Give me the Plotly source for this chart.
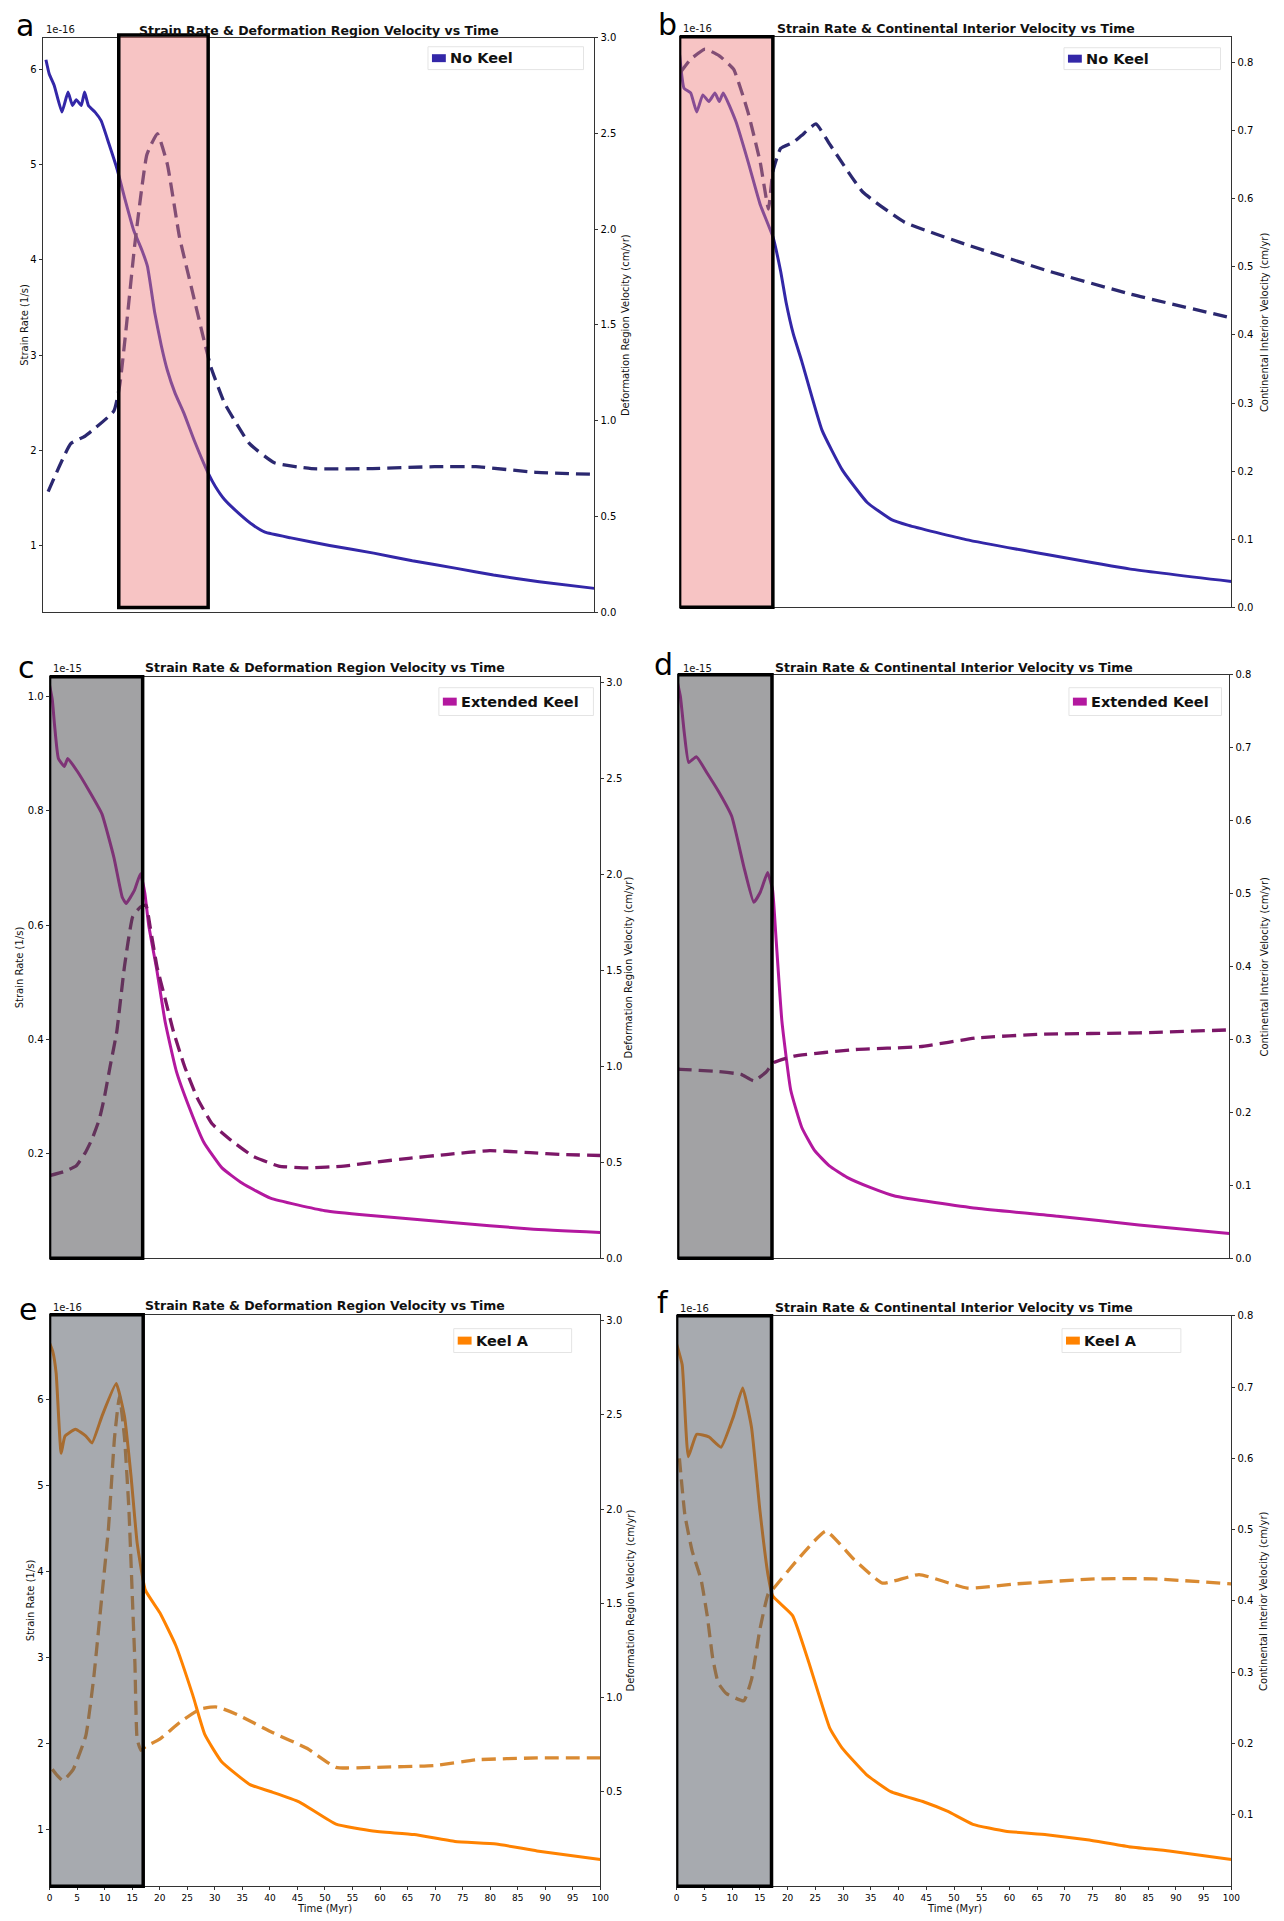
import plotly.graph_objects as go

# ---------------------------------------------------------------- data
time_ticks = list(range(0, 101, 5))

# (a) No Keel - deformation region
a_solid_t = [0.6, 1.2, 2.1, 3.5, 4.6, 5.4, 6.1, 7.0, 7.6, 8.3, 9.5, 10.6, 12.0, 13.5, 15.0, 16.5, 18.0, 19.0,
             20.3, 21.5, 22.6, 24.0, 25.6, 27.5, 30.0, 31.3, 33.0, 35.7, 38.0, 40.3, 45.0, 52.0, 60.0, 67.0,
             75.0, 81.7, 90.0, 100.0]
a_solid_v = [6.10, 5.95, 5.83, 5.55, 5.76, 5.62, 5.68, 5.62, 5.76, 5.62, 5.55, 5.46, 5.22, 4.95, 4.62, 4.31,
             4.10, 3.93, 3.45, 3.10, 2.84, 2.60, 2.39, 2.10, 1.76, 1.62, 1.48, 1.33, 1.22, 1.14, 1.08, 1.00,
             0.92, 0.84, 0.76, 0.69, 0.62, 0.55]
a_dash_t = [1.0, 5.1, 7.7, 12.9, 14.0, 15.2, 16.7, 18.9, 20.8, 22.6, 24.8, 27.1, 29.0, 30.5, 33.0, 37.5, 42.0,
            48.7, 59.8, 71.0, 78.5, 89.6, 100.0]
a_dash_w = [0.63, 0.88, 0.92, 1.05, 1.19, 1.50, 1.92, 2.39, 2.50, 2.34, 1.96, 1.68, 1.45, 1.28, 1.09, 0.88,
            0.78, 0.75, 0.75, 0.76, 0.76, 0.73, 0.72]

# (b) No Keel - continental interior
b_solid_t = [0.0, 0.8, 2.0, 3.1, 4.2, 5.3, 6.4, 7.2, 7.9, 10.2, 12.4, 14.6, 16.9, 18.3, 19.3, 20.6, 22.1, 25.8,
             29.5, 34.0, 38.4, 41.5, 51.9, 66.8, 81.7, 100.0]
b_solid_v = [6.15, 5.80, 5.75, 5.55, 5.73, 5.66, 5.75, 5.66, 5.75, 5.45, 5.03, 4.58, 4.24, 3.88, 3.55, 3.22,
             2.94, 2.21, 1.79, 1.45, 1.27, 1.21, 1.06, 0.90, 0.75, 0.62]
b_dash_t = [0.1, 2.0, 4.6, 7.2, 9.8, 12.4, 14.6, 16.1, 16.9, 18.3, 20.6, 22.1, 24.7, 27.3, 33.2, 40.7, 51.9,
            66.8, 81.7, 100.0]
b_dash_w = [0.785, 0.805, 0.82, 0.81, 0.79, 0.727, 0.654, 0.585, 0.64, 0.674, 0.683, 0.693, 0.71, 0.679,
            0.61, 0.566, 0.533, 0.494, 0.46, 0.425]

# (c) Extended Keel - deformation region
c_solid_t = [0.0, 0.5, 0.9, 1.6, 2.7, 3.3, 5.0, 7.2, 9.5, 11.7, 13.2, 13.9, 15.4, 16.5, 17.3, 18.0, 19.5, 21.0,
             23.0, 25.4, 28.0, 31.3, 35.0, 40.1, 50.0, 57.8, 72.5, 87.3, 100.0]
c_solid_v = [1.02, 0.995, 0.951, 0.892, 0.878, 0.892, 0.87, 0.835, 0.795, 0.718, 0.649, 0.638, 0.661, 0.69,
             0.656, 0.60, 0.52, 0.43, 0.345, 0.28, 0.22, 0.175, 0.148, 0.122, 0.10, 0.092, 0.080, 0.068, 0.062]
c_dash_t = [0.0, 2.5, 4.8, 6.5, 7.7, 9.0, 9.9, 11.0, 12.2, 13.6, 15.1, 16.5, 17.5, 18.3, 19.5, 21.0, 22.5,
            24.5, 26.9, 29.5, 32.7, 37.0, 41.6, 47.0, 53.4, 59.0, 65.2, 72.0, 79.9, 87.3, 93.0, 100.0]
c_dash_w = [0.43, 0.45, 0.48, 0.55, 0.62, 0.72, 0.83, 1.00, 1.18, 1.52, 1.78, 1.83, 1.84, 1.72, 1.52, 1.35,
            1.18, 1.00, 0.83, 0.70, 0.62, 0.53, 0.48, 0.47, 0.48, 0.50, 0.52, 0.54, 0.56, 0.55, 0.54, 0.535]

# (d) Extended Keel - continental interior
d_solid_t = [0.0, 0.5, 1.2, 2.0, 3.4, 5.3, 7.5, 9.8, 12.0, 13.8, 15.0, 16.3, 17.2, 17.8, 18.9, 20.5, 22.5,
             24.8, 27.5, 30.7, 35.0, 39.5, 54.2, 68.9, 83.6, 100.0]
d_solid_v = [1.02, 0.997, 0.934, 0.882, 0.892, 0.864, 0.83, 0.788, 0.70, 0.638, 0.656, 0.69, 0.66, 0.58,
             0.43, 0.31, 0.245, 0.205, 0.178, 0.158, 0.140, 0.125, 0.104, 0.090, 0.075, 0.060]
d_dash_t = [0.0, 0.5, 7.1, 11.5, 13.8, 16.0, 17.4, 21.1, 32.1, 43.9, 54.2, 65.9, 83.6, 100.0]
d_dash_w = [0.259, 0.259, 0.256, 0.252, 0.243, 0.255, 0.268, 0.277, 0.286, 0.29, 0.302, 0.307, 0.309, 0.313]

# (e) Keel A - deformation region
e_solid_t = [0.0, 0.6, 1.2, 2.1, 2.8, 4.7, 6.6, 7.7, 9.5, 12.1, 13.6, 14.8, 15.9, 17.4, 20.0, 22.9, 26.0,
             28.2, 31.2, 36.4, 40.1, 45.3, 52.0, 58.7, 66.2, 73.6, 81.1, 88.5, 100.0]
e_solid_v = [6.65, 6.55, 6.30, 5.37, 5.57, 5.65, 5.57, 5.49, 5.80, 6.18, 5.80, 5.10, 4.33, 3.78, 3.52, 3.14,
             2.56, 2.10, 1.79, 1.52, 1.44, 1.32, 1.06, 0.98, 0.94, 0.86, 0.83, 0.75, 0.65]
e_dash_t = [0.5, 1.3, 2.4, 4.3, 6.6, 8.0, 9.2, 10.7, 11.8, 12.7, 13.6, 14.4, 15.1, 15.5, 15.9, 16.6, 17.4,
            20.0, 23.7, 27.4, 30.4, 34.1, 40.1, 46.8, 52.0, 58.7, 69.9, 77.4, 88.6, 100.0]
e_dash_w = [0.62, 0.59, 0.56, 0.62, 0.80, 1.10, 1.45, 1.90, 2.38, 2.60, 2.38, 2.00, 1.48, 1.18, 0.78, 0.72,
            0.74, 0.78, 0.87, 0.94, 0.95, 0.91, 0.82, 0.73, 0.63, 0.63, 0.64, 0.67, 0.68, 0.68]

# (f) Keel A - continental interior
f_solid_t = [0.0, 1.0, 2.1, 3.6, 5.8, 8.0, 10.2, 11.9, 13.5, 15.0, 16.5, 17.3, 20.9, 23.8, 27.6, 29.8, 34.2,
             38.6, 44.6, 48.9, 53.4, 59.3, 66.7, 74.0, 81.5, 88.8, 100.0]
f_solid_v = [6.65, 6.41, 5.34, 5.60, 5.57, 5.45, 5.80, 6.14, 5.68, 4.72, 3.95, 3.72, 3.49, 2.95, 2.18, 1.95,
             1.64, 1.44, 1.32, 1.21, 1.06, 0.98, 0.94, 0.88, 0.80, 0.75, 0.65]
f_dash_t = [0.5, 1.5, 2.8, 4.4, 5.5, 6.5, 7.5, 9.0, 12.1, 13.5, 15.0, 16.5, 17.4, 21.8, 26.9, 32.0, 37.1,
            43.7, 52.4, 61.2, 75.7, 86.0, 100.0]
f_dash_w = [0.60, 0.52, 0.47, 0.43, 0.38, 0.32, 0.285, 0.27, 0.26, 0.29, 0.36, 0.41, 0.417, 0.458, 0.498,
            0.458, 0.425, 0.437, 0.418, 0.424, 0.431, 0.431, 0.424]

vel_ticks_def = [0.0, 0.5, 1.0, 1.5, 2.0, 2.5, 3.0]
vel_ticks_int = [0.0, 0.1, 0.2, 0.3, 0.4, 0.5, 0.6, 0.7, 0.8]
strain_ticks_16 = [1, 2, 3, 4, 5, 6]
strain_ticks_15 = [0.2, 0.4, 0.6, 0.8, 1.0]

title_def = "Strain Rate & Deformation Region Velocity vs Time"
title_int = "Strain Rate & Continental Interior Velocity vs Time"
label_def = "Deformation Region Velocity (cm/yr)"
label_int = "Continental Interior Velocity (cm/yr)"
label_strain = "Strain Rate (1/s)"

# ---------------------------------------------------------------- styles / layout
W, H = 1284, 1921
FONT = "DejaVu Sans"

C_NK, C_NK_D = "#3327a8", "#2b2870"
C_EK, C_EK_D = "#b3189f", "#7c1768"
C_KA, C_KA_D = "#ff8200", "#d98a32"
PINK = "rgba(238,125,125,0.45)"
GREY = "rgba(76,76,80,0.52)"
GREY_B = "rgba(80,86,96,0.5)"

panels = [
    dict(letter="a", px=(40, 597, 32, 610), name="No Keel", c=C_NK, cd=C_NK_D,
         st=a_solid_t, sv=a_solid_v, dt=a_dash_t, dw=a_dash_w,
         lrange=[0.30, 6.33], lticks=strain_ticks_16, lfmt="d", lshow=True, off="1e-16",
         rrange=[0, 3.0], rticks=vel_ticks_def, title=title_def, rlabel=label_def,
         boxx=(13.8, 30.0), boxy=(0.008, 1.005), boxfill=PINK, letter_xy=(22, 20),
         title_y=25, off_xy=(41, 24), leg=(429, 41, 586, 64), rl_x=629, ll_x=22, xlab=False),
    dict(letter="b", px=(683, 1240, 31, 605), name="No Keel", c=C_NK, cd=C_NK_D,
         st=b_solid_t, sv=b_solid_v, dt=b_dash_t, dw=b_dash_w,
         lrange=[0.35, 6.34], lticks=strain_ticks_16, lfmt="d", lshow=False, off="1e-16",
         rrange=[0, 0.838], rticks=vel_ticks_int, title=title_int, rlabel=label_int,
         boxx=(0, 16.9), boxy=(0, 1), boxfill=PINK, letter_xy=(671, 19),
         title_y=23, off_xy=(684, 23), leg=(1071, 42, 1229, 64), rl_x=1273, ll_x=None, xlab=False),
    dict(letter="c", px=(47, 603, 675, 1260), name="Extended Keel", c=C_EK, cd=C_EK_D,
         st=c_solid_t, sv=c_solid_v, dt=c_dash_t, dw=c_dash_w,
         lrange=[0.017, 1.035], lticks=strain_ticks_15, lfmt=".1f", lshow=True, off="1e-15",
         rrange=[0, 3.03], rticks=vel_ticks_def, title=title_def, rlabel=label_def,
         boxx=(0, 16.9), boxy=(0, 1), boxfill=GREY, letter_xy=(24, 666),
         title_y=666, off_xy=(48, 667), leg=(440, 686, 596, 714), rl_x=631, ll_x=17, xlab=False),
    dict(letter="d", px=(681, 1238, 673, 1260), name="Extended Keel", c=C_EK, cd=C_EK_D,
         st=d_solid_t, sv=d_solid_v, dt=d_dash_t, dw=d_dash_w,
         lrange=[0.017, 1.035], lticks=strain_ticks_15, lfmt=".1f", lshow=False, off="1e-15",
         rrange=[0, 0.8], rticks=vel_ticks_int, title=title_int, rlabel=label_int,
         boxx=(0, 17.1), boxy=(0, 1), boxfill=GREY, letter_xy=(667, 663),
         title_y=666, off_xy=(684, 667), leg=(1076, 686, 1230, 714), rl_x=1273, ll_x=None, xlab=False),
    dict(letter="e", px=(47, 603, 1317, 1892), name="Keel A", c=C_KA, cd=C_KA_D,
         st=e_solid_t, sv=e_solid_v, dt=e_dash_t, dw=e_dash_w,
         lrange=[0.34, 6.98], lticks=strain_ticks_16, lfmt="d", lshow=True, off="1e-16",
         rrange=[0, 3.03], rticks=vel_ticks_def[1:], title=title_def, rlabel=label_def,
         boxx=(0, 17.0), boxy=(0, 1), boxfill=GREY_B, letter_xy=(25, 1312),
         title_y=1308, off_xy=(48, 1310), leg=(455, 1331, 574, 1355), rl_x=633, ll_x=28, xlab=True),
    dict(letter="f", px=(680, 1240, 1318, 1892), name="Keel A", c=C_KA, cd=C_KA_D,
         st=f_solid_t, sv=f_solid_v, dt=f_dash_t, dw=f_dash_w,
         lrange=[0.34, 6.98], lticks=strain_ticks_16, lfmt="d", lshow=False, off="1e-16",
         rrange=[0, 0.8], rticks=vel_ticks_int[1:], title=title_int, rlabel=label_int,
         boxx=(0, 17.1), boxy=(0, 1), boxfill=GREY_B, letter_xy=(666, 1305),
         title_y=1310, off_xy=(681, 1311), leg=(1069, 1331, 1189, 1355), rl_x=1273, ll_x=None, xlab=True),
]


def px_x(x):
    return x / W


def px_y(y):
    return 1 - y / H


fig = go.Figure()
layout = dict(width=W, height=H, autosize=False, margin=dict(l=0, r=0, t=0, b=0),
              paper_bgcolor="white", plot_bgcolor="white", showlegend=False,
              font=dict(family=FONT, color="black", size=10))
shapes, annotations = [], []

for k, p in enumerate(panels):
    n = k + 1
    xname = "x" if n == 1 else f"x{n}"
    xkey = "xaxis" if n == 1 else f"xaxis{n}"
    L, R = 2 * k + 1, 2 * k + 2
    yl = "y" if L == 1 else f"y{L}"
    ylkey = "yaxis" if L == 1 else f"yaxis{L}"
    yr = f"y{R}"
    yrkey = f"yaxis{R}"
    l, r, t, b = p["px"]

    layout[xkey] = dict(domain=[px_x(l), px_x(r)], anchor=yl, range=[0, 100], showgrid=False,
                        zeroline=False, showline=True, linecolor="#333", linewidth=1, mirror=True,
                        tickmode="array", tickvals=time_ticks if p["xlab"] else [],
                        ticktext=[str(v) for v in time_ticks] if p["xlab"] else [],
                        showticklabels=p["xlab"], ticks="outside" if p["xlab"] else "",
                        ticklen=3, tickcolor="#333", tickfont=dict(size=9, family=FONT))
    layout[ylkey] = dict(domain=[px_y(b), px_y(t)], anchor=xname, range=p["lrange"], showgrid=False,
                         zeroline=False, showline=True, linecolor="#333", linewidth=1,
                         tickmode="array", tickvals=p["lticks"] if p["lshow"] else [],
                         tickformat=p["lfmt"], showticklabels=p["lshow"],
                         ticks="outside" if p["lshow"] else "", ticklen=3, tickcolor="#333",
                         tickfont=dict(size=10, family=FONT))
    layout[yrkey] = dict(overlaying=yl, side="right", anchor=xname, range=p["rrange"], showgrid=False,
                         zeroline=False, showline=True, linecolor="#333", linewidth=1,
                         tickmode="array", tickvals=p["rticks"], tickformat=".1f",
                         ticks="outside", ticklen=3, tickcolor="#333",
                         tickfont=dict(size=10, family=FONT))

    fig.add_trace(go.Scatter(x=p["st"], y=p["sv"], mode="lines", name=p["name"], xaxis=xname, yaxis=yl,
                             line=dict(color=p["c"], width=3.0, shape="spline", smoothing=0.4)))
    fig.add_trace(go.Scatter(x=p["dt"], y=p["dw"], mode="lines", name=p["name"] + " velocity",
                             xaxis=xname, yaxis=yr,
                             line=dict(color=p["cd"], width=3.3, dash="14px,7px",
                                       shape="spline", smoothing=0.4)))

    # highlighted time window
    shapes.append(dict(type="rect", xref=xname, yref=f"{yl} domain", x0=p["boxx"][0], x1=p["boxx"][1],
                       y0=p["boxy"][0], y1=p["boxy"][1], fillcolor=p["boxfill"],
                       line=dict(color="black", width=3.5), layer="above"))

    # legend (patch + label in a faint frame)
    lx0, ly0, lx1, ly1 = p["leg"]
    shapes.append(dict(type="rect", xref="paper", yref="paper", x0=px_x(lx0), x1=px_x(lx1),
                       y0=px_y(ly1), y1=px_y(ly0), line=dict(color="#e4e4e4", width=1),
                       fillcolor="rgba(255,255,255,0.8)", layer="above"))
    cy = (ly0 + ly1) / 2
    shapes.append(dict(type="rect", xref="paper", yref="paper", x0=px_x(lx0 + 4), x1=px_x(lx0 + 18),
                       y0=px_y(cy + 4), y1=px_y(cy - 4), fillcolor=p["c"], line=dict(width=0),
                       layer="above"))
    annotations.append(dict(text="<b>" + p["name"] + "</b>", xref="paper", yref="paper",
                            x=px_x(lx0 + 20), y=px_y(cy),
                            xanchor="left", yanchor="middle", showarrow=False,
                            font=dict(size=14.5, family=FONT, color="#111")))

    # title
    annotations.append(dict(text="<b>" + p["title"] + "</b>", xref="paper", yref="paper",
                            x=px_x((l + r) / 2),
                            y=px_y(p["title_y"]), xanchor="center", yanchor="middle", showarrow=False,
                            font=dict(size=12.5, family=FONT, color="#111")))
    # panel letter
    annotations.append(dict(text=p["letter"], xref="paper", yref="paper", x=px_x(p["letter_xy"][0]),
                            y=px_y(p["letter_xy"][1]), xanchor="center", yanchor="middle",
                            showarrow=False, font=dict(size=30, family=FONT, color="black")))
    # offset text
    annotations.append(dict(text=p["off"], xref="paper", yref="paper", x=px_x(p["off_xy"][0]),
                            y=px_y(p["off_xy"][1]), xanchor="left", yanchor="middle", showarrow=False,
                            font=dict(size=10, family=FONT, color="#111")))
    # right axis label
    annotations.append(dict(text=p["rlabel"], xref="paper", yref="paper", x=px_x(p["rl_x"]),
                            y=px_y((t + b) / 2), xanchor="center", yanchor="middle", textangle=-90,
                            showarrow=False, font=dict(size=10, family=FONT, color="#111")))
    if p["ll_x"] is not None:
        annotations.append(dict(text=label_strain, xref="paper", yref="paper", x=px_x(p["ll_x"]),
                                y=px_y((t + b) / 2), xanchor="center", yanchor="middle", textangle=-90,
                                showarrow=False, font=dict(size=10, family=FONT, color="#111")))
    if p["xlab"]:
        annotations.append(dict(text="Time (Myr)", xref="paper", yref="paper", x=px_x((l + r) / 2),
                                y=px_y(1914), xanchor="center", yanchor="middle", showarrow=False,
                                font=dict(size=10, family=FONT, color="#111")))

layout["shapes"] = shapes
layout["annotations"] = annotations
fig.update_layout(**layout)
fig.write_html("out.html")
